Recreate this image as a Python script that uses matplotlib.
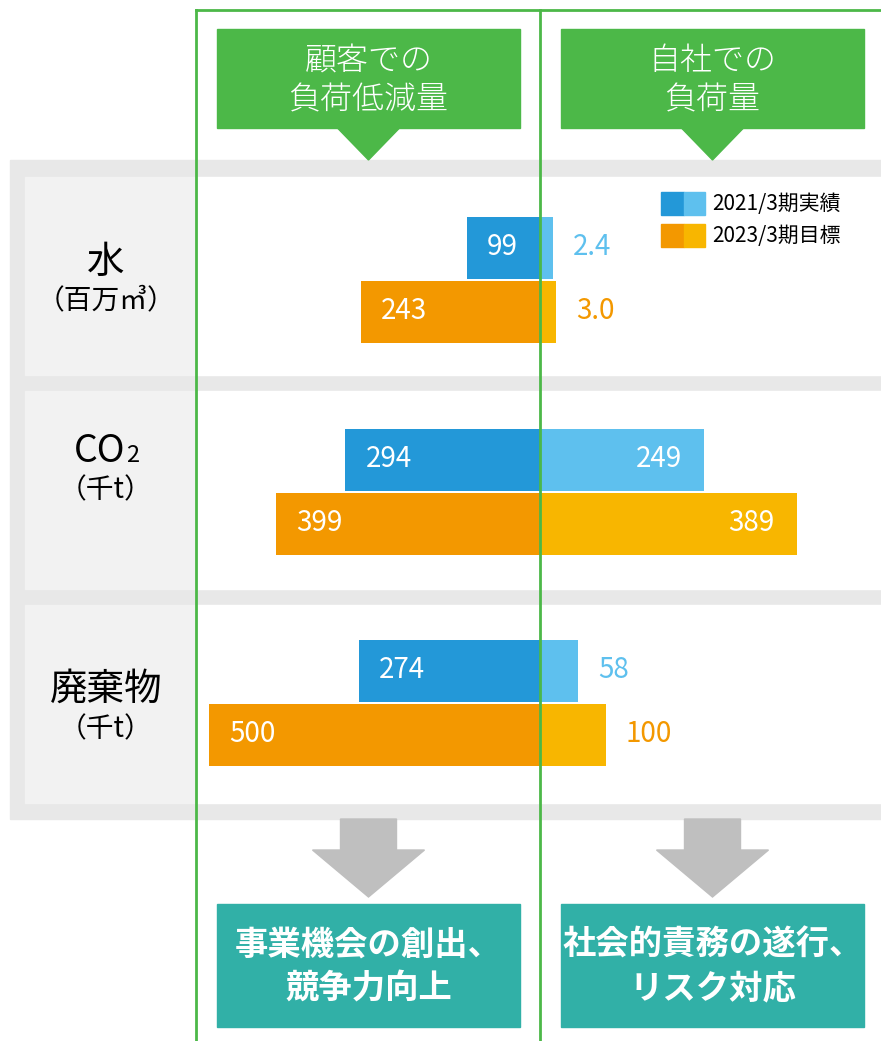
import numpy as np
import matplotlib.pyplot as plt
from matplotlib.patches import Rectangle, Polygon

plt.rcParams['font.family'] = ['Noto Sans CJK JP', 'DejaVu Sans']

# data
items = ['水', 'CO', '廃棄物']
units = ['（百万㎥）', '（千t）', '（千t）']
customer_2021 = [99, 294, 274]    # 顧客での負荷低減量
customer_2023 = [243, 399, 500]
own_2021 = [2.4, 249, 58]         # 自社での負荷量
own_2023 = [3.0, 389, 100]
legend_labels = ['2021/3期実績', '2023/3期目標']
headers = [['顧客での', '負荷低減量'], ['自社での', '負荷量']]
results = [['事業機会の創出、', '競争力向上'], ['社会的責務の遂行、', 'リスク対応']]

# colours
GREEN = '#4cb848'
TEAL = '#31b0a7'
BLUE_D, BLUE_L = '#2398d8', '#5ec0ee'
ORG_D, ORG_L = '#f39800', '#f8b600'

W, H = 881, 1041
fig = plt.figure(figsize=(W / 100, H / 100), dpi=100)


def rect(x0, y0, x1, y1):
    # pixel box (top-left origin) -> figure fraction
    return [x0 / W, 1 - y1 / H, (x1 - x0) / W, (y1 - y0) / H]


# background layer in pixel coordinates
bg = fig.add_axes([0, 0, 1, 1], zorder=0)
bg.set_xlim(0, W)
bg.set_ylim(H, 0)
bg.axis('off')

bg.add_patch(Rectangle((10, 160), W - 10, 659, color='#e8e8e8'))
panels = [(177, 375), (391, 589), (605, 803)]
for (t, b) in panels:
    bg.add_patch(Rectangle((25, t), 171, b - t, color='#f2f2f2'))
    bg.add_patch(Rectangle((196, t), W - 196, b - t, color='white'))

# header boxes with pointers, arrows and result boxes
for cx, hdr, res in zip([368.5, 712.5], headers, results):
    bg.add_patch(Rectangle((cx - 151.5, 29), 303, 99, color=GREEN))
    bg.add_patch(Polygon([(cx - 32, 127), (cx + 32, 127), (cx, 160)], color=GREEN))
    bg.text(cx, 61, hdr[0], color='white', fontsize=23, ha='center', va='center', weight='light')
    bg.text(cx, 100, hdr[1], color='white', fontsize=23, ha='center', va='center', weight='light')

    bg.add_patch(Polygon([(cx - 28, 819), (cx + 28, 819), (cx + 28, 850), (cx + 56, 850),
                          (cx, 897), (cx - 56, 850), (cx - 28, 850)], color='#bfbfbf'))
    bg.add_patch(Rectangle((cx - 151.5, 904), 303, 123, color=TEAL))
    bg.text(cx, 945, res[0], color='white', fontsize=24, ha='center', va='center', weight='bold')
    bg.text(cx, 989, res[1], color='white', fontsize=24, ha='center', va='center', weight='bold')

# row labels
label_y = [(262, 300), (452, 490), (689, 729)]
for name, unit, (y1, y2) in zip(items, units, label_y):
    if name == 'CO':
        bg.text(125, y1, name, fontsize=27, ha='right', va='center')
        bg.text(126, y1 + 4, '2', fontsize=17, ha='left', va='center')
    else:
        bg.text(106, y1, name, fontsize=27, ha='center', va='center')
    bg.text(106, y2, unit, fontsize=20, ha='center', va='center')

# legend
for k, (lab, cd, cl) in enumerate(zip(legend_labels, [BLUE_D, ORG_D], [BLUE_L, ORG_L])):
    y = 192 + 31.5 * k
    bg.add_patch(Rectangle((661, y), 23, 23, color=cd))
    bg.add_patch(Rectangle((684, y), 21, 23, color=cl))
    bg.text(712, y + 12, lab, fontsize=15, ha='left', va='center')

# bars: each row split into a left (customer) and a right (own) axes
row_center = [280, 492, 703]
scale_left = [0.737, 0.662, 0.662]   # px per unit
scale_right = [5.4, 0.66, 0.66]
gap, bar_h, half = 64, 62, 100


def fmt(v):
    return f'{v:.1f}' if v < 10 else f'{v:.0f}'


for i in range(3):
    yc = row_center[i]
    axl = fig.add_axes(rect(196, yc - half, 540, yc + half), zorder=1)
    axr = fig.add_axes(rect(540, yc - half, W, yc + half), zorder=1)
    axl.set_xlim(-344 / scale_left[i], 0)
    axr.set_xlim(0, (W - 540) / scale_right[i])
    for ax in (axl, axr):
        ax.set_ylim(half / gap, -half / gap)
        ax.axis('off')
        ax.patch.set_alpha(0)

    ypos = [-0.5, 0.5]
    lv = [customer_2021[i], customer_2023[i]]
    rv = [own_2021[i], own_2023[i]]
    axl.barh(ypos, [-v for v in lv], height=bar_h / gap, color=[BLUE_D, ORG_D])
    axr.barh(ypos, rv, height=bar_h / gap, color=[BLUE_L, ORG_L])

    for y, v in zip(ypos, lv):
        axl.annotate(fmt(v), xy=(-v, y), xytext=(20, 1), textcoords='offset pixels',
                     ha='left', va='center', color='white', fontsize=20)
    for y, v, c in zip(ypos, rv, [BLUE_L, ORG_D]):
        if v * scale_right[i] > 120:
            axr.annotate(fmt(v), xy=(v, y), xytext=(-22, 1), textcoords='offset pixels',
                         ha='right', va='center', color='white', fontsize=20)
        else:
            axr.annotate(fmt(v), xy=(v, y), xytext=(20, 1), textcoords='offset pixels',
                         ha='left', va='center', color=c, fontsize=20)

# green frame lines on top
top = fig.add_axes([0, 0, 1, 1], zorder=3)
top.set_xlim(0, W)
top.set_ylim(H, 0)
top.axis('off')
top.patch.set_alpha(0)
top.plot([196, 196], [10, H], color=GREEN, lw=2)
top.plot([540, 540], [10, H], color=GREEN, lw=2)
top.plot([196, W], [10, 10], color=GREEN, lw=2)

fig.savefig('out.png', dpi=100)
